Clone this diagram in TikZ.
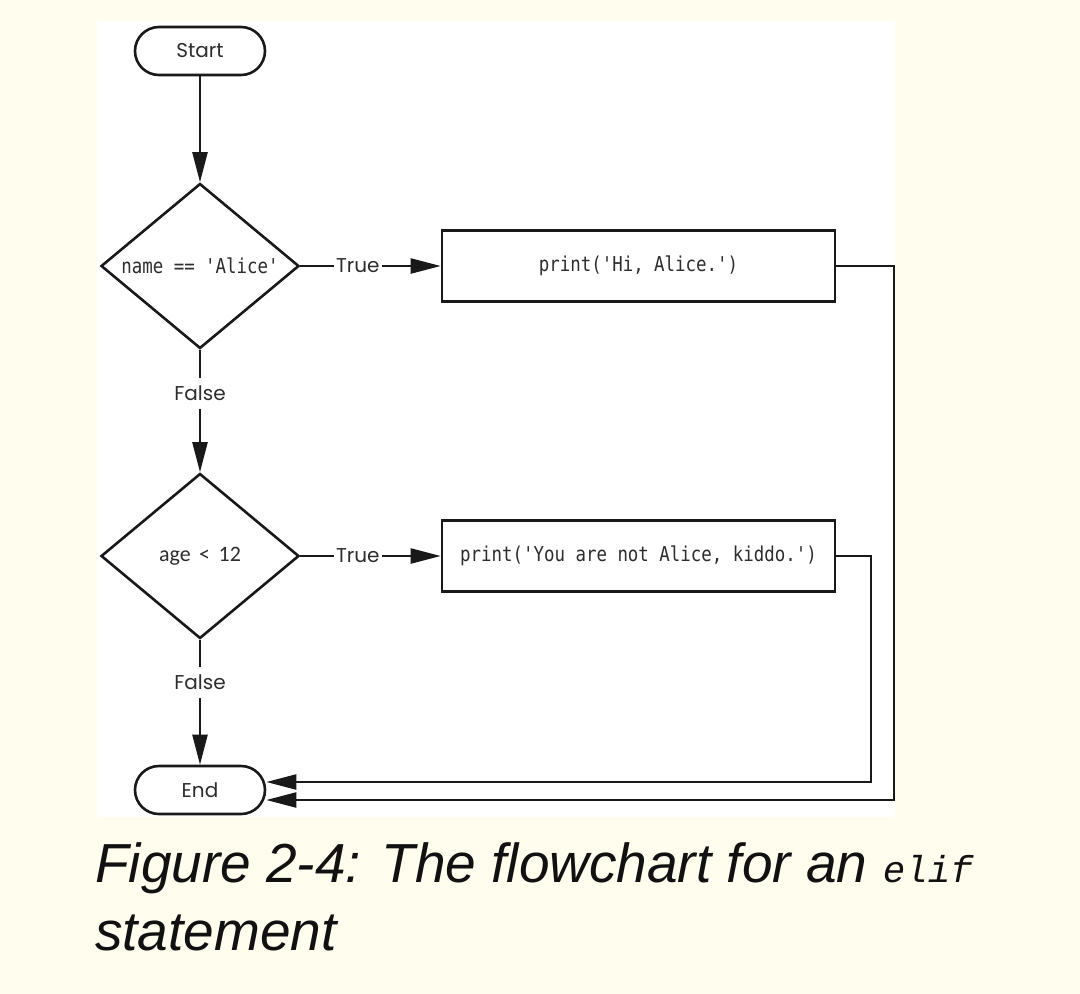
\documentclass[tikz,border=0pt]{standalone}
\usepackage{fontspec}
\usetikzlibrary{shapes.geometric,shapes.misc,arrows.meta}
\setmainfont{Liberation Sans}
\newfontfamily\labelfont{Poppins}
\newfontfamily\codefont[FakeStretch=0.85]{DejaVu Sans Mono}
\newfontfamily\agefont{Carlito}
\newfontfamily\capmono{Liberation Mono}
\newcommand{\sq}{\char"0027\relax}
\definecolor{bgcream}{RGB}{255,253,238}
\definecolor{inkc}{RGB}{25,25,25}
\definecolor{txtc}{RGB}{45,45,45}
\definecolor{capc}{RGB}{17,17,17}
\tikzset{
  shapeline/.style={draw=inkc, line width=2.6pt},
  term/.style={shapeline, rounded rectangle, minimum width=130pt, minimum height=48pt, inner sep=0pt,
    text=txtc, font=\labelfont\fontsize{20}{24}\selectfont},
  dec/.style={shapeline, diamond, aspect=1.2, minimum width=198pt, minimum height=165pt, inner sep=0pt,
    text=txtc, font=\codefont\fontsize{20.5}{24}\selectfont},
  proc/.style={shapeline, rectangle, minimum width=393pt, minimum height=71pt, inner sep=0pt,
    text=txtc, font=\codefont\fontsize{20.5}{24}\selectfont},
  conn/.style={draw=inkc, line width=2.3pt},
  arr/.style={conn, -{Triangle[length=30pt,width=15pt]}},
  lbl/.style={fill=white, text=txtc, inner xsep=2pt, inner ysep=8pt, font=\labelfont\fontsize{20}{24}\selectfont},
  captext/.style={anchor=base west, inner sep=0pt, text=capc, font=\fontsize{55}{68}\selectfont\itshape}
}
\begin{document}
\begin{tikzpicture}[x=1pt,y=-1pt]
  \useasboundingbox (0,0) rectangle (1080,994);
  \fill[bgcream] (0,0) rectangle (1080,994);
  \fill[white] (97,21) rectangle (895,817);

  \node[term] (start) at (200,51) {Start};
  \node[dec] (d1) at (200,266) {name == \sq Alice\sq};
  \node[proc] (b1) at (638.5,266) {print(\sq Hi, Alice.\sq)};
  \node[dec] (d2) at (200,556) {\agefont\fontsize{22}{26}\selectfont age\hspace{8.5pt}<\hspace{8.5pt}12};
  \node[proc] (b2) at (638.5,556) {print(\sq You are not Alice, kiddo.\sq)};
  \node[term] (stop) at (200,790) {End};

  \draw[arr] (start.south) -- (d1.north);
  \draw[arr] (d1.east) -- node[lbl,pos=0.41] {True} (b1.west);
  \draw[arr] (d1.south) -- node[lbl,pos=0.356] {False} (d2.north);
  \draw[arr] (d2.east) -- node[lbl,pos=0.41] {True} (b2.west);
  \draw[arr] (d2.south) -- node[lbl,pos=0.34] {False} (stop.north);
  \draw[arr] (b1.east) -- ++(58,0) |- ([yshift=-10pt]stop.east);
  \draw[arr] (b2.east) -- ++(35,0) |- ([yshift=8pt]stop.east);

  \node[captext] (cap1) at (95,882) {Figure 2-4: The flowchart for an {\capmono\fontsize{37.5}{68}\selectfont elif}};
  \node[captext] (cap2) at (95,950) {statement};
\end{tikzpicture}
\end{document}
